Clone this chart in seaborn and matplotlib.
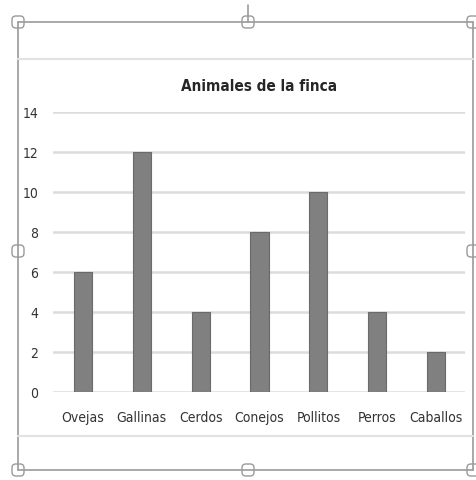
import matplotlib
matplotlib.use("Agg")
import matplotlib.pyplot as plt
import seaborn as sns
import pandas as pd
from matplotlib.patches import FancyBboxPatch
from matplotlib.lines import Line2D

animales = ['Ovejas', 'Gallinas', 'Cerdos', 'Conejos', 'Pollitos', 'Perros', 'Caballos']
cantidad = [6, 12, 4, 8, 10, 4, 2]
y_ticks = [0, 2, 4, 6, 8, 10, 12, 14]

df = pd.DataFrame({'Animal': animales, 'Cantidad': cantidad})

sns.set_style('white')
plt.rcParams['font.family'] = ['DejaVu Sans']
plt.rcParams['font.stretch'] = 'condensed'

W, H = 477, 481
fig = plt.figure(figsize=(W / 100, H / 100), dpi=100)
ax = fig.add_axes([53.5 / W, 1 - 393 / H, 412 / W, 280 / H])

sns.barplot(x='Animal', y='Cantidad', data=df, color='#808080', width=0.31,
            edgecolor='#6a6a6a', linewidth=0.8, saturation=1, ax=ax, zorder=3)

ax.set_ylim(0, 14)
ax.set_xlim(-0.5, 6.5)
ax.set_yticks(y_ticks)
ax.yaxis.grid(True, color='#dcdcdc', linewidth=1.8, zorder=0)
ax.set_axisbelow(True)
for s in ax.spines.values():
    s.set_visible(False)
ax.set_xlabel('')
ax.set_ylabel('')
ax.tick_params(axis='y', length=0, pad=11, labelsize=10, labelcolor='#333333')
ax.tick_params(axis='x', length=0, pad=13, labelsize=10, labelcolor='#333333')
ax.set_title('Animales de la finca', fontsize=11, fontweight='bold', pad=16)


def px(x, y):
    return x / W, 1 - y / H


# outer selection frame
frame = '#9a9a9a'
for (x0, y0, x1, y1) in [(18, 23, 473, 23), (18, 471, 473, 471),
                         (18, 23, 18, 471), (473, 23, 473, 471), (248, 6, 248, 23)]:
    a, b = px(x0, y0)
    c, d = px(x1, y1)
    fig.add_artist(Line2D([a, c], [b, d], color=frame, linewidth=1.2))

# inner chart area borders
for yy in (60, 437):
    a, b = px(18, yy)
    c, d = px(473, yy)
    fig.add_artist(Line2D([a, c], [b, d], color='#e2e2e2', linewidth=1.5))

# selection handles
for (hx, hy) in [(18, 23), (248, 23), (473, 23), (18, 252), (473, 252),
                 (18, 471), (248, 471), (473, 471)]:
    a, b = px(hx - 6, hy + 6)
    fig.add_artist(FancyBboxPatch((a, b), 12 / W, 12 / H,
                                  boxstyle='round,pad=0,rounding_size=0.008',
                                  facecolor='white', edgecolor=frame, linewidth=1.0,
                                  transform=fig.transFigure))

fig.savefig('out.png', dpi=100)
